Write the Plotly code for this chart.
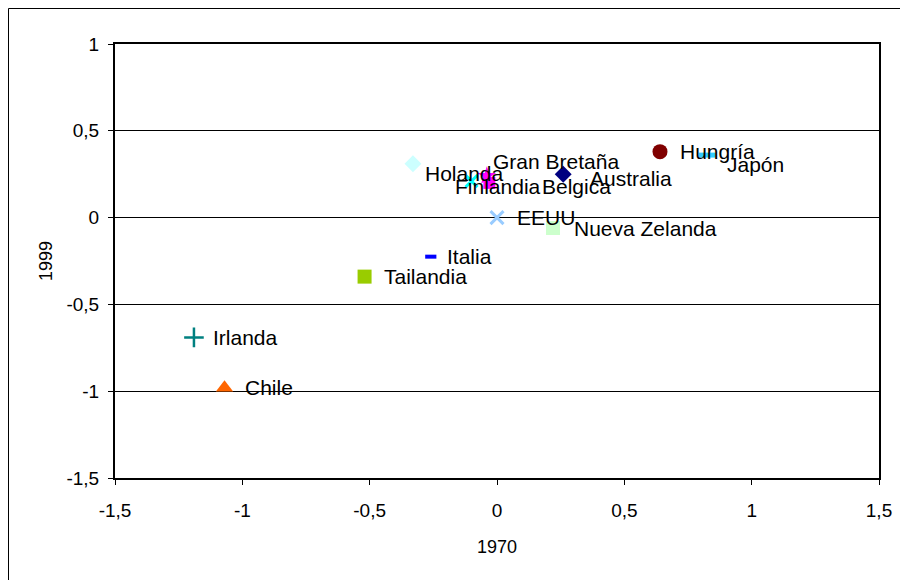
import plotly.graph_objects as go

# ---- data ----
countries = ["Australia", "Belgica", "Chile", "EEUU", "Finlandia", "Gran Bretaña",
             "Holanda", "Hungría", "Irlanda", "Italia", "Japón", "Nueva Zelanda", "Tailandia"]
x1970 = [0.26, -0.03, -1.07, 0.0, -0.10, -0.04, -0.33, 0.64, -1.19, -0.26, 0.825, 0.22, -0.52]
y1999 = [0.25, 0.20, -0.98, 0.0, 0.21, 0.24, 0.31, 0.38, -0.69, -0.225, 0.36, -0.06, -0.34]

tick_vals_x = [-1.5, -1, -0.5, 0, 0.5, 1, 1.5]
tick_text_x = ["-1,5", "-1", "-0,5", "0", "0,5", "1", "1,5"]
tick_vals_y = [-1.5, -1, -0.5, 0, 0.5, 1]
tick_text_y = ["-1,5", "-1", "-0,5", "0", "0,5", "1"]

# ---- styles ----
styles = {
    "Australia":     dict(symbol="diamond", color="#000080", size=13),
    "Belgica":       dict(symbol="square", color="#FF00FF", size=12),
    "Chile":         dict(symbol="triangle-up", color="#FF6600", size=15),
    "EEUU":          dict(symbol="x-thin-open", color="#99CCFF", size=13, lw=3),
    "Finlandia":     dict(symbol="x-thin-open", color="#00FFFF", size=12, lw=3),
    "Gran Bretaña":  dict(symbol="star", color="#FF00FF", size=14),
    "Holanda":       dict(symbol="diamond", color="#CCFFFF", size=13),
    "Hungría":       dict(symbol="circle", color="#800000", size=15),
    "Irlanda":       dict(symbol="cross-thin-open", color="#008080", size=14, lw=2.5),
    "Italia":        dict(symbol="line-ew-open", color="#0000FF", size=8, lw=4),
    "Japón":         dict(symbol="line-ew-open", color="#33CCFF", size=12, lw=5),
    "Nueva Zelanda": dict(symbol="square", color="#CCFFCC", size=14),
    "Tailandia":     dict(symbol="square", color="#99CC00", size=14),
}
# label offsets in pixels (dx to left edge of text, dy downwards)
label_off = {
    "Australia": (25, 4), "Belgica": (51, 4), "Chile": (18, 0), "EEUU": (18, 0),
    "Finlandia": (-19, 5), "Gran Bretaña": (4, -14), "Holanda": (10, 10),
    "Hungría": (18, 0), "Irlanda": (17, 0), "Italia": (14, 0), "Japón": (18, 9),
    "Nueva Zelanda": (19, 0), "Tailandia": (17, 0),
}

FONT = "Arial, Liberation Sans, sans-serif"

fig = go.Figure()
annotations = []
for name, xv, yv in zip(countries, x1970, y1999):
    s = styles[name]
    marker = dict(symbol=s["symbol"], color=s["color"], size=s["size"])
    if "lw" in s:
        marker["line"] = dict(color=s["color"], width=s["lw"])
    else:
        marker["line"] = dict(width=0)
    fig.add_trace(go.Scatter(x=[xv], y=[yv], mode="markers", name=name,
                             marker=marker, showlegend=False, hoverinfo="text",
                             hovertext=name))
    dx, dy = label_off[name]
    annotations.append(dict(x=xv, y=yv, xref="x", yref="y", text=name,
                            showarrow=False, xanchor="left", yanchor="middle",
                            xshift=dx, yshift=-dy,
                            font=dict(family=FONT, size=21, color="black")))

# page has an 8px body margin; figure is sized/positioned to compensate
W, H = 900, 572
L, R, T, B = 107, 29, 36, 102
pw, ph = W - L - R, H - T - B

shapes = [
    # outer chart border (extends beyond the visible page on right/bottom)
    dict(type="rect", xref="paper", yref="paper",
         x0=(0.5 - L) / pw, x1=(W + 20 - L) / pw,
         y0=-(H + 20 - T - ph) / ph, y1=1 + (T - 0.5) / ph,
         line=dict(color="black", width=1), layer="below"),
]

fig.update_layout(
    width=W, height=H,
    margin=dict(l=L, r=R, t=T, b=B, pad=0),
    paper_bgcolor="white", plot_bgcolor="white",
    font=dict(family=FONT, size=19, color="black"),
    annotations=annotations,
    shapes=shapes,
    xaxis=dict(range=[-1.5, 1.5], tickvals=tick_vals_x, ticktext=tick_text_x,
               showgrid=False, zeroline=False, showline=True, linecolor="black",
               linewidth=2, mirror=True, ticks="outside", ticklen=5, tickcolor="black",
               tickwidth=1, ticklabelstandoff=9,
               title=dict(text="1970", standoff=21, font=dict(size=18)),
               tickfont=dict(size=19)),
    yaxis=dict(range=[-1.5, 1], tickvals=tick_vals_y, ticktext=tick_text_y,
               showgrid=True, gridcolor="black", gridwidth=1, zeroline=False,
               showline=True, linecolor="black", linewidth=2, mirror=True,
               ticks="outside", ticklen=5, tickcolor="black", tickwidth=1,
               ticklabelstandoff=5,
               title=dict(text="1999", standoff=9, font=dict(size=18)),
               tickfont=dict(size=19)),
)

fig.write_html("out.html")
